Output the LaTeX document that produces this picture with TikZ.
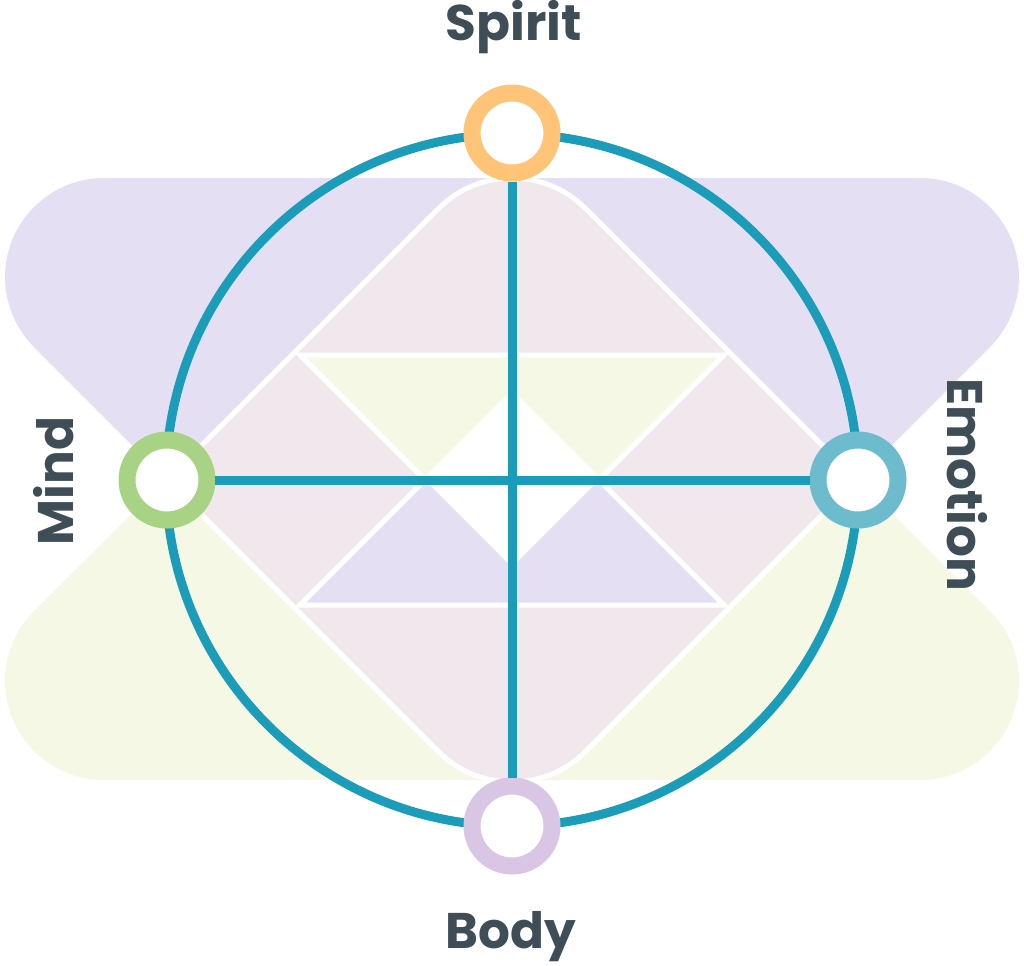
\documentclass[tikz,border=0pt]{standalone}
\usepackage{fontspec}
\setmainfont{Poppins}
\definecolor{wheel}{HTML}{1B9DBA}
\definecolor{ink}{HTML}{3F4D57}
\definecolor{spiritc}{HTML}{FFC478}
\definecolor{mindc}{HTML}{A9D384}
\definecolor{emotionc}{HTML}{6CBCCE}
\definecolor{bodyc}{HTML}{D8C6E4}
\definecolor{lavender}{HTML}{E5DFF3}
\definecolor{lime}{HTML}{F5F8E4}
\definecolor{blush}{HTML}{F1E8EE}
\begin{document}
\begin{tikzpicture}[x=0.02cm,y=-0.02cm,
                    ring/.style={circle,draw,fill=white,line width=0.34cm,minimum size=1.6cm,inner sep=0pt},
                    spoke/.style={draw=wheel,line width=0.18cm},
                    tile/.style={draw=white,line width=0.1cm},
                    word/.style={text=ink,font=\bfseries\fontsize{28.5}{32}\selectfont,anchor=base}
                   ]
  \useasboundingbox (0,0) rectangle (1024,965);

  % background bands
  \fill[lavender] (467,780) -- (34,347) arc[start angle=135,end angle=270,radius=99]
    -- (920,178) arc[start angle=270,end angle=405,radius=99] -- (557,780) -- cycle;
  \fill[lime] (417,230) -- (607,230) -- (990,611) arc[start angle=-45,end angle=90,radius=99]
    -- (104,780) arc[start angle=90,end angle=225,radius=99] -- cycle;
  \filldraw[tile,fill=blush] (167,480) -- (438.5,208.5) arc[start angle=225,end angle=315,radius=104]
    -- (857,480) -- (585.5,751.5) arc[start angle=45,end angle=135,radius=104] -- cycle;
  \filldraw[tile,fill=lime] (300,355) -- (724,355) -- (512,567) -- cycle;
  \filldraw[tile,fill=lavender] (300,605) -- (724,605) -- (512,393) -- cycle;
  \fill[white] (512,393) -- (599,480) -- (512,567) -- (425,480) -- cycle;

  % wheel
  \draw[wheel,line width=0.18cm] (512,480) circle (346);

  \node[ring,draw=spiritc] (spirit) at (512,133) {};
  \node[ring,draw=mindc] (mind) at (167,480) {};
  \node[ring,draw=emotionc] (emotion) at (858,480) {};
  \node[ring,draw=bodyc] (body) at (512,826) {};

  \path[spoke]
   (spirit) edge (body)
   (mind) edge (emotion);

  \node[word] (spirit text) at (514,40) {Spirit};
  \node[word] (body text) at (511,948) {Body};
  \node[word,rotate=90] (mind text) at (73,481) {Mind};
  \node[word,rotate=-90] (emotion text) at (947,485) {Emotion};
\end{tikzpicture}
\end{document}
